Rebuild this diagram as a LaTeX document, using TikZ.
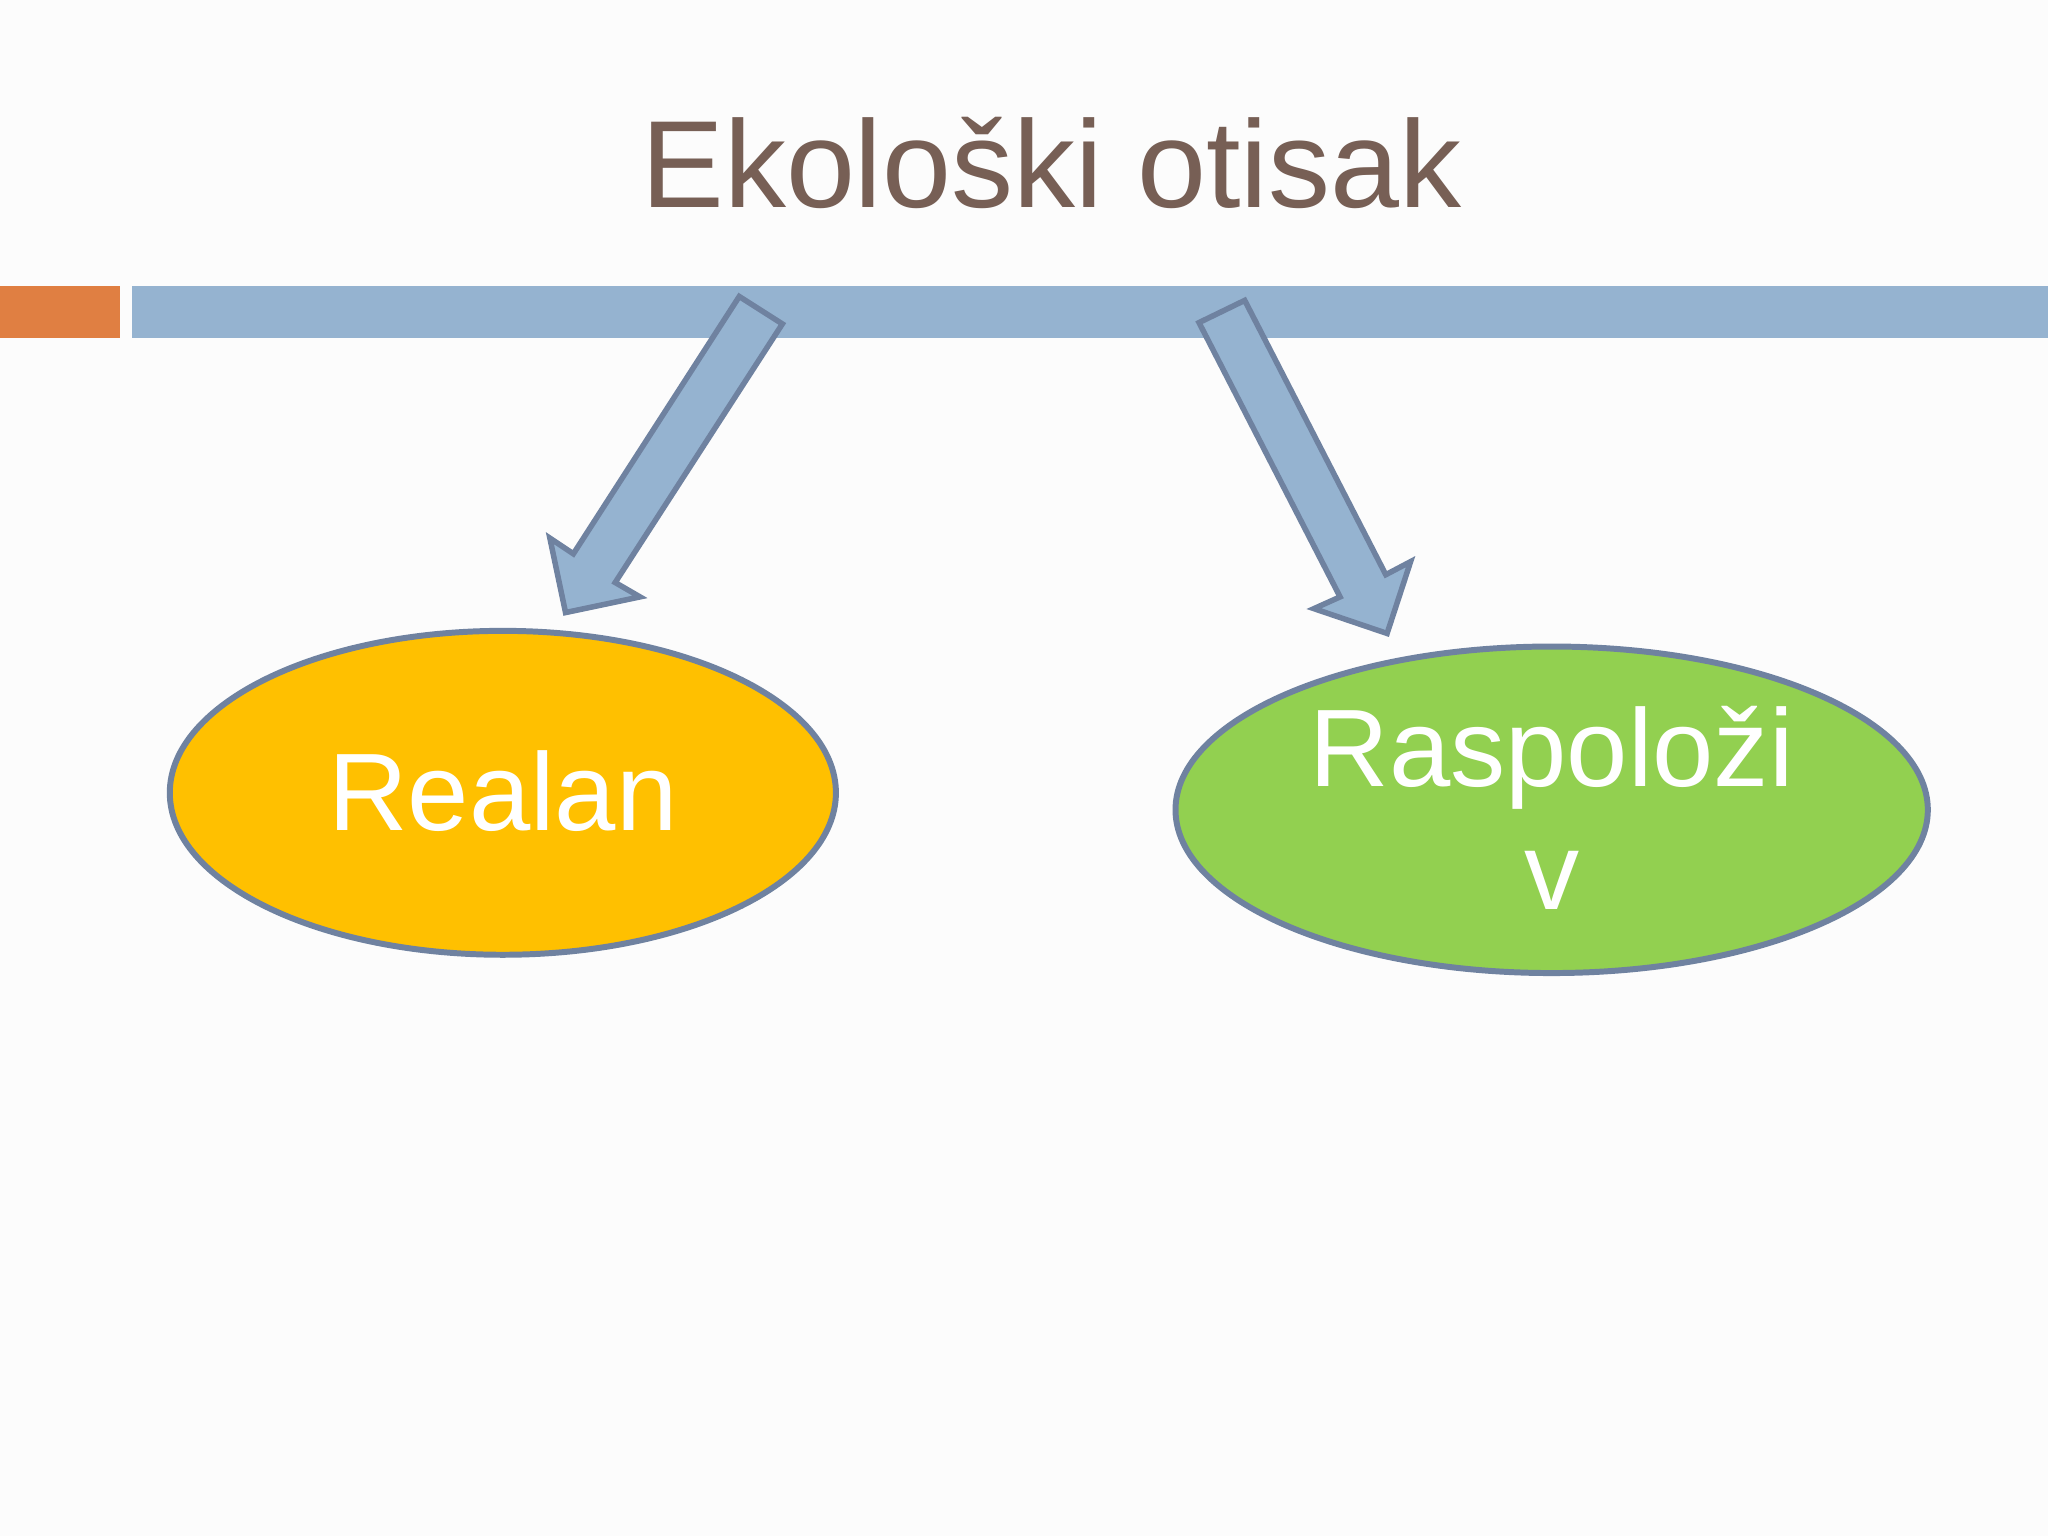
\documentclass[tikz,border=0pt]{standalone}
\usepackage{fontspec}
\setmainfont{Liberation Sans}
\definecolor{bluebar}{HTML}{95B3D0}
\definecolor{edge}{HTML}{6F82A0}
\definecolor{orangebar}{HTML}{E07F42}
\definecolor{titlec}{HTML}{775F55}
\definecolor{yel}{HTML}{FFC000}
\definecolor{grn}{HTML}{92D050}
\begin{document}
\begin{tikzpicture}[x=0.01cm,y=-0.01cm,
  arrowshape/.style={fill=bluebar,draw=edge,line width=1.2pt,line join=miter},
  oval/.style={draw=edge,line width=1.3pt}]
\fill[white!99!black] (0,0) rectangle (1568,1176);
\useasboundingbox (0,0) rectangle (1568,1176);
\node[text=titlec,font=\fontsize{27}{32}\selectfont,anchor=base] (title) at (805,159) {Ekološki otisak};
\fill[orangebar] (0,219) rectangle (92,259);
\fill[bluebar] (101,219) rectangle (1568,259);
\draw[arrowshape] (566,227) -- (599,248) -- (471,446) -- (490,457) -- (433,469) -- (421,412) -- (439,424) -- cycle;
\draw[arrowshape] (918,247) -- (953,230) -- (1061,440) -- (1080,430) -- (1062,485) -- (1006,466) -- (1026,457) -- cycle;
\draw[oval,fill=yel] (385,607) ellipse [x radius=255,y radius=124];
\draw[oval,fill=grn] (1188,620) ellipse [x radius=288,y radius=125];
\node[text=white,font=\fontsize{24}{28}\selectfont,anchor=base] (realan) at (385,636) {Realan};
\node[text=white,font=\fontsize{24}{28}\selectfont,anchor=base] (rasp) at (1188,602) {Raspoloži};
\node[text=white,font=\fontsize{24}{28}\selectfont,anchor=base] (v) at (1188,696) {v};
\end{tikzpicture}
\end{document}
